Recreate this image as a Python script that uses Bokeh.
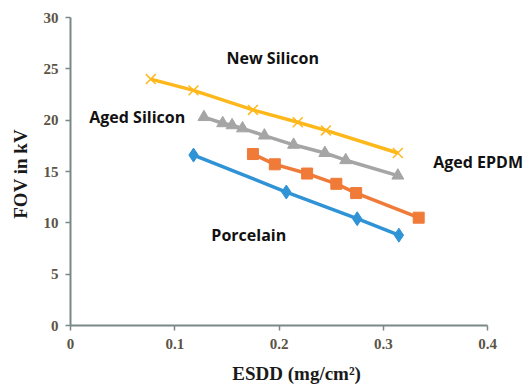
from bokeh.plotting import figure
from bokeh.models import Range1d, FixedTicker, Label
from bokeh.embed import file_html
from bokeh.resources import INLINE

# Data
new_si_x = [0.077, 0.118, 0.175, 0.218, 0.245, 0.314]
new_si_y = [24.0, 22.9, 21.0, 19.8, 19.0, 16.8]

aged_si_x = [0.128, 0.146, 0.155, 0.165, 0.186, 0.214, 0.244, 0.264, 0.314]
aged_si_y = [20.3, 19.7, 19.5, 19.2, 18.5, 17.6, 16.8, 16.1, 14.6]

aged_epdm_x = [0.175, 0.196, 0.227, 0.255, 0.274, 0.334]
aged_epdm_y = [16.7, 15.7, 14.8, 13.8, 12.9, 10.5]

porcelain_x = [0.118, 0.207, 0.275, 0.315]
porcelain_y = [16.6, 13.0, 10.4, 8.8]

x_ticks = [0, 0.1, 0.2, 0.3, 0.4]
x_tick_labels = {0: "0", 0.1: "0.1", 0.2: "0.2", 0.3: "0.3", 0.4: "0.4"}
y_ticks = [0, 5, 10, 15, 20, 25, 30]

labels = [
    ("New Silicon", 0.194, 26.1),
    ("Aged Silicon", 0.064, 20.3),
    ("Aged EPDM", 0.391, 15.9),
    ("Porcelain", 0.171, 8.8),
]

# frame: x=0 at 70px, x=0.4 at 487px, frame extends to the right edge (527px)
left_px, axis_end_px, W = 70, 487, 527
x_end = 0.4 * (W - left_px) / (axis_end_px - left_px)

p = figure(width=W, height=390, output_backend="svg", toolbar_location=None,
           x_range=Range1d(0, x_end), y_range=Range1d(0, 30),
           min_border_left=left_px, min_border_right=0, min_border_top=17, min_border_bottom=65)
p.outline_line_color = None
p.xgrid.visible = False
p.ygrid.visible = False
p.background_fill_color = "white"

axis_color = "#7a8787"
tick_color = "#5b5446"
for ax in (p.xaxis[0], p.yaxis[0]):
    ax.axis_line_color = axis_color
    ax.axis_line_width = 2
    ax.major_tick_line_color = axis_color
    ax.major_tick_line_width = 1.5
    ax.minor_tick_line_color = None
    ax.major_tick_in = 0
    ax.major_tick_out = 5
    ax.major_label_text_font = "Liberation Serif"
    ax.major_label_text_font_size = "15px"
    ax.major_label_text_color = tick_color
    ax.major_label_text_font_style = "bold"
    ax.axis_label_text_font = "Liberation Serif"
    ax.axis_label_text_font_style = "bold"
    ax.axis_label_text_font_size = "19px"
    ax.axis_label_text_color = "#1a1a1a"

p.xaxis[0].ticker = FixedTicker(ticks=x_ticks)
p.xaxis[0].bounds = (0, 0.4)
p.xaxis[0].major_label_overrides = x_tick_labels
p.xaxis[0].major_label_standoff = 8
p.xaxis[0].axis_label = "ESDD  (mg/cm²)"
p.xaxis[0].axis_label_standoff = 11
p.yaxis[0].ticker = FixedTicker(ticks=y_ticks)
p.yaxis[0].major_label_standoff = 7
p.yaxis[0].axis_label = "FOV  in kV"
p.yaxis[0].axis_label_standoff = 10

gold = "#FFB81C"
gray = "#A5A5A5"
orange = "#F07A38"
blue = "#2F93D6"

p.line(new_si_x, new_si_y, line_color=gold, line_width=3.5)
p.scatter(new_si_x, new_si_y, marker="x", size=14, line_color=gold, line_width=1.5)

p.line(aged_si_x, aged_si_y, line_color=gray, line_width=3.5)
p.scatter(aged_si_x, aged_si_y, marker="triangle", size=12, fill_color=gray, line_color=gray)

p.line(aged_epdm_x, aged_epdm_y, line_color=orange, line_width=3.5)
p.scatter(aged_epdm_x, aged_epdm_y, marker="square", size=11, fill_color=orange, line_color=orange)

p.line(porcelain_x, porcelain_y, line_color=blue, line_width=3.5)
p.scatter(porcelain_x, porcelain_y, marker="diamond", size=14, fill_color=blue, line_color=blue)

for txt, lx, ly in labels:
    p.add_layout(Label(x=lx, y=ly, text=txt, text_align="center", text_baseline="middle",
                       text_font="Open Sans", text_font_style="bold", text_font_size="16px",
                       text_color="#111111"))

open("out.html", "w").write(file_html(p, INLINE))
